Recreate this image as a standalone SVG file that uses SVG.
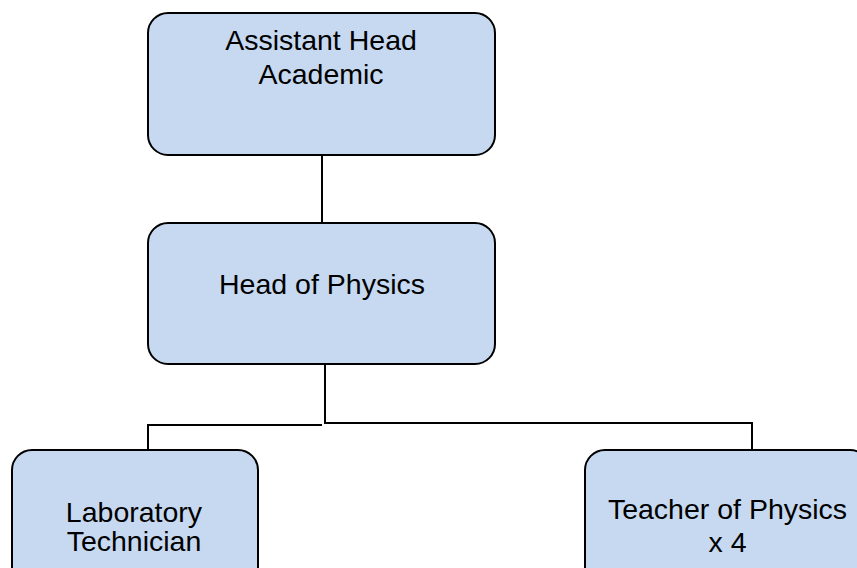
<svg xmlns="http://www.w3.org/2000/svg" width="857" height="568" viewBox="0 0 857 568">
<style>
.box{fill:#c6d9f0;stroke:#000;stroke-width:2}
.t{font-family:"Liberation Sans",Arial,sans-serif;font-size:28.5px;fill:#000;text-anchor:middle}
.c{fill:none;stroke:#000;stroke-width:2}
</style>
<rect width="857" height="568" fill="#fff"/>
<g id="connectors">
<line class="c" x1="322" y1="155" x2="322" y2="223"/>
<polyline class="c" points="325,364 325,423 752,423 752,450"/>
<polyline class="c" points="322,425 148,425 148,450"/>
</g>
<g id="assistant-head">
<rect class="box" x="148" y="13" width="347" height="142" rx="20"/>
<text class="t" x="321" y="49.5">Assistant Head<tspan x="321" dy="34">Academic</tspan></text>
</g>
<g id="head-physics">
<rect class="box" x="148" y="223" width="347" height="141" rx="20"/>
<text class="t" x="322" y="293.5">Head of Physics</text>
</g>
<g id="lab-tech">
<rect class="box" x="12" y="450" width="246" height="140" rx="20"/>
<text class="t" x="134" y="522">Laboratory<tspan x="134" dy="28.5">Technician</tspan></text>
</g>
<g id="teacher">
<rect class="box" x="585" y="450" width="285" height="140" rx="20"/>
<text class="t" x="727.5" y="518.5">Teacher of Physics<tspan x="727.5" dy="33">x 4</tspan></text>
</g>
</svg>
